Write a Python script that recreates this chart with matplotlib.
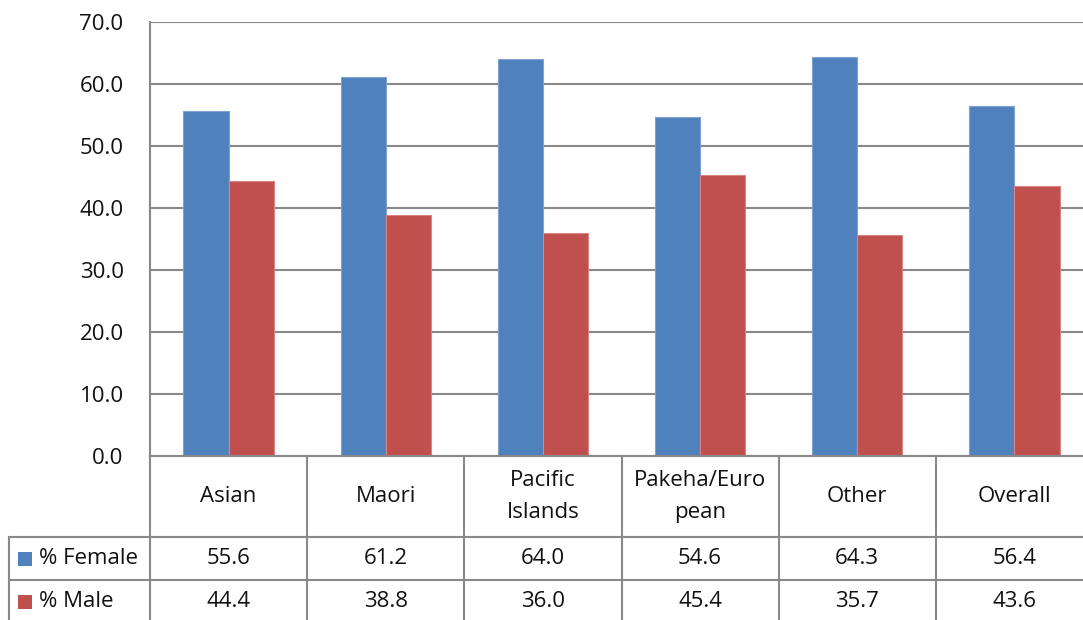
import numpy as np
import matplotlib
matplotlib.use("Agg")
import matplotlib.pyplot as plt
from matplotlib.lines import Line2D
from matplotlib.patches import Rectangle

categories = ["Asian", "Maori", "Pacific\nIslands", "Pakeha/Euro\npean", "Other", "Overall"]
female = [55.6, 61.2, 64.0, 54.6, 64.3, 56.4]
male = [44.4, 38.8, 36.0, 45.4, 35.7, 43.6]
series_names = ["% Female", "% Male"]
yticks = [0, 10, 20, 30, 40, 50, 60, 70]

BLUE = "#4F81BD"
RED = "#C0504D"
GRID = "#898989"
FONT = "Open Sans"
FS = 16

W, H = 1083, 620
fig = plt.figure(figsize=(W / 100, H / 100), dpi=100)
fig.patch.set_facecolor("white")


def fx(px):
    return px / W


def fy(py):
    return 1 - py / H


# plot area in pixel terms
left, right, top, bottom = 150, 1093, 22, 456
ax = fig.add_axes([fx(left), fy(bottom), fx(right) - fx(left), fy(top) - fy(bottom)])
ax.set_xlim(-0.5, len(categories) - 0.5)
ax.set_ylim(0, 70)

x = np.arange(len(categories))
bw = 0.287
ax.bar(x, female, width=-bw, align="edge", color=BLUE, edgecolor="#7FA2D0",
       linewidth=0.8, zorder=3)
ax.bar(x, male, width=bw, align="edge", color=RED, edgecolor="#D98583",
       linewidth=0.8, zorder=3)

ax.set_yticks(yticks)
ax.set_yticklabels([f"{v:.1f}" for v in yticks], fontfamily=FONT, fontsize=FS,
                   color="#111111")
ax.tick_params(axis="y", length=0, pad=19)
ax.set_xticks([])
ax.grid(axis="y", color=GRID, linewidth=1.5, zorder=0)
for s in ["top", "right", "bottom"]:
    ax.spines[s].set_visible(False)
ax.spines["left"].set_color(GRID)
ax.spines["left"].set_linewidth(1.5)
ax.set_axisbelow(True)

# data table beneath the plot
col_w = (right - left) / len(categories)
row_header = (456, 537)
row_f = (537, 580)
row_m = (580, 623)
lw = 1.5


def hline(y, x0, x1):
    fig.add_artist(Line2D([fx(x0), fx(x1)], [fy(y), fy(y)], color=GRID, linewidth=lw))


def vline(xp, y0, y1):
    fig.add_artist(Line2D([fx(xp), fx(xp)], [fy(y0), fy(y1)], color=GRID, linewidth=lw))


hline(456, left, right)
hline(537, 9, right)
hline(580, 9, right)
for i in range(len(categories) + 1):
    vline(left + i * col_w, 456, 625)
vline(9, 537, 625)

for i, cat in enumerate(categories):
    cx = left + (i + 0.5) * col_w
    fig.text(fx(cx), fy((row_header[0] + row_header[1]) / 2), cat,
             ha="center", va="center", fontfamily=FONT, fontsize=FS,
             linespacing=1.68, color="#111111")
    fig.text(fx(cx), fy((row_f[0] + row_f[1]) / 2), f"{female[i]:.1f}",
             ha="center", va="center", fontfamily=FONT, fontsize=FS,
             color="#111111")
    fig.text(fx(cx), fy((row_m[0] + row_m[1]) / 2), f"{male[i]:.1f}",
             ha="center", va="center", fontfamily=FONT, fontsize=FS,
             color="#111111")

for (name, col, row) in zip(series_names, [BLUE, RED], [row_f, row_m]):
    cy = (row[0] + row[1]) / 2
    sq = 14
    fig.add_artist(Rectangle((fx(18), fy(cy + sq / 2)), fx(sq), sq / H,
                             facecolor=col, edgecolor="none"))
    fig.text(fx(39), fy(cy), name, ha="left", va="center",
             fontfamily=FONT, fontsize=FS, color="#111111")

fig.savefig("out.png", dpi=100)
